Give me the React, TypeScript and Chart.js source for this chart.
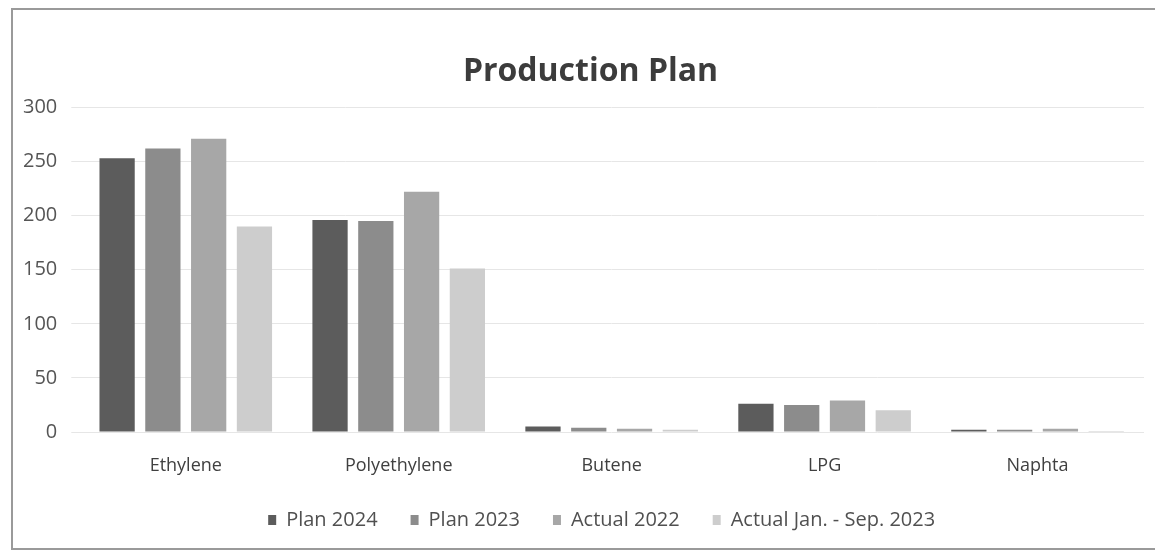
import React, { useEffect, useRef } from "react";
import { Chart, registerables } from "chart.js";

Chart.register(...registerables);

const categories = ["Ethylene", "Polyethylene", "Butene", "LPG", "Naphta"];
const plan2024 = [253, 196, 5, 26, 2];
const plan2023 = [262, 195, 4, 25, 2];
const actual2022 = [271, 222, 3, 29, 3];
const actualJanSep2023 = [190, 151, 2, 20, 1];
const yTicks = [0, 50, 100, 150, 200, 250, 300];

const boxShift = {
  id: "boxShift",
  afterLayout(c: any) {
    const t = c.titleBlock;
    if (t) {
      t.left += 14;
      t.right += 14;
    }
    const l = c.legend;
    if (l) {
      l.left -= 10;
      l.right -= 10;
    }
  },
};

export default function App() {
  const ref = useRef<HTMLCanvasElement | null>(null);

  useEffect(() => {
    if (!ref.current) return;
    const font = "'Open Sans', 'Noto Sans', sans-serif";
    const chart = new Chart(ref.current, {
      type: "bar",
      data: {
        labels: categories,
        datasets: [
          { label: "Plan 2024", data: plan2024, backgroundColor: "#5c5c5c" },
          { label: "Plan 2023", data: plan2023, backgroundColor: "#8c8c8c" },
          { label: "Actual 2022", data: actual2022, backgroundColor: "#a7a7a7" },
          { label: "Actual Jan. - Sep. 2023", data: actualJanSep2023, backgroundColor: "#cdcdcd" },
        ],
      },
      plugins: [boxShift],
      options: {
        responsive: true,
        maintainAspectRatio: false,
        animation: false,
        datasets: { bar: { categoryPercentage: 0.86, barPercentage: 0.77 } },
        layout: { padding: { left: 0, right: 11, top: 0, bottom: 8 } },
        plugins: {
          title: {
            display: true,
            text: "Production Plan",
            color: "#3c3c3c",
            font: { family: font, size: 32, weight: "bold" },
            padding: { top: 43, bottom: 16 },
          },
          legend: {
            position: "bottom",
            fullSize: false,
            labels: {
              color: "#505050",
              font: { family: font, size: 20 },
              boxWidth: 8,
              boxHeight: 10,
              padding: 33,
            },
          },
          tooltip: { enabled: false },
        },
        scales: {
          x: {
            grid: { display: false },
            border: { display: false },
            ticks: { color: "#404040", font: { family: font, size: 18 }, padding: 15 },
            afterFit: (scale: any) => {
              scale.height = 45;
            },
          },
          y: {
            min: 0,
            max: 300,
            afterBuildTicks: (axis: any) => {
              axis.ticks = yTicks.map((v) => ({ value: v }));
            },
            grid: { color: "#e6e6e6" },
            border: { display: false },
            ticks: { color: "#555555", font: { family: font, size: 20 }, padding: 14 },
          },
        },
      },
    });
    return () => chart.destroy();
  }, []);

  return (
    <div
      style={{
        width: 1150,
        height: 542,
        marginLeft: 3,
        border: "2px solid #9a9a9a",
        boxSizing: "border-box",
        position: "relative",
        background: "#fff",
      }}
    >
      <div style={{ position: "absolute", left: -4, top: 0, width: 1146, height: 538 }}>
        <canvas ref={ref} />
      </div>
    </div>
  );
}
